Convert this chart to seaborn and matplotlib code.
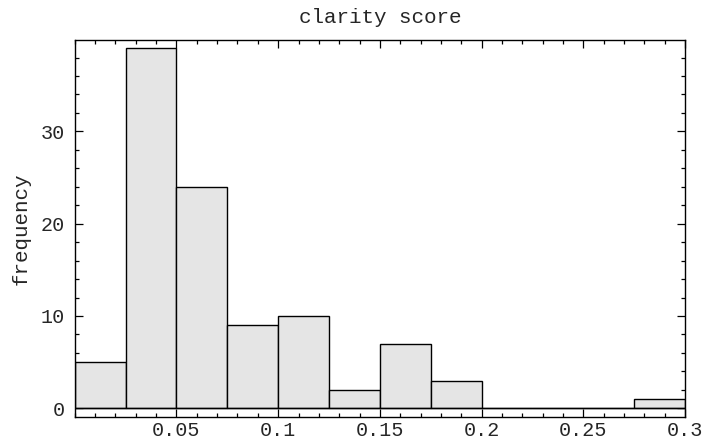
import matplotlib
matplotlib.use("Agg")
import matplotlib.pyplot as plt
from matplotlib.ticker import MultipleLocator, FixedLocator, FixedFormatter
import numpy as np
import seaborn as sns

# Histogram of clarity scores: bin edges (width 0.025) and counts per bin
bin_edges = [0.0, 0.025, 0.05, 0.075, 0.1, 0.125, 0.15, 0.175, 0.2, 0.225, 0.25, 0.275, 0.3]
counts = [5, 39, 24, 9, 10, 2, 7, 3, 0, 0, 0, 1]
x_tick_values = [0.05, 0.1, 0.15, 0.2, 0.25, 0.3]
x_tick_labels = ["0.05", "0.1", "0.15", "0.2", "0.25", "0.3"]
y_tick_values = [0, 10, 20, 30]

sns.set_style("ticks")
plt.rcParams["font.family"] = ["Liberation Mono", "DejaVu Sans Mono"]
plt.rcParams["font.size"] = 15

fig = plt.figure(figsize=(7.07, 4.45), dpi=100)
ax = fig.add_axes([0.1057, 0.0636, 0.8632, 0.8465])

centers = [(a + b) / 2 for a, b in zip(bin_edges[:-1], bin_edges[1:])]
sns.histplot(x=centers, weights=counts, bins=bin_edges, ax=ax,
             color="#e5e5e5", edgecolor="black", linewidth=1.0, alpha=1.0)
ax.axhline(0, color="black", lw=1.0, zorder=3)

ax.set_xlim(0, 0.3)
ax.set_ylim(-0.91, 39.9)

ax.xaxis.set_major_locator(FixedLocator(x_tick_values))
ax.xaxis.set_major_formatter(FixedFormatter(x_tick_labels))
ax.xaxis.set_minor_locator(MultipleLocator(0.01))
ax.yaxis.set_major_locator(FixedLocator(y_tick_values))
ax.yaxis.set_minor_locator(MultipleLocator(2))

ax.tick_params(which="both", direction="in", top=True, right=True,
               color="black", width=0.9)
ax.tick_params(which="major", length=5.5)
ax.tick_params(which="minor", length=3)
ax.tick_params(axis="x", which="major", pad=3, labelsize=14.5)
ax.tick_params(axis="y", which="major", pad=7, labelsize=14.5)

for s in ax.spines.values():
    s.set_visible(True)
    s.set_color("black")
    s.set_linewidth(1.0)

ax.set_xlabel("")
ax.set_ylabel("frequency", fontsize=15, labelpad=7)
ax.set_title("clarity score", fontsize=15, pad=12)

fig.savefig("out.png", dpi=100, facecolor="white")
